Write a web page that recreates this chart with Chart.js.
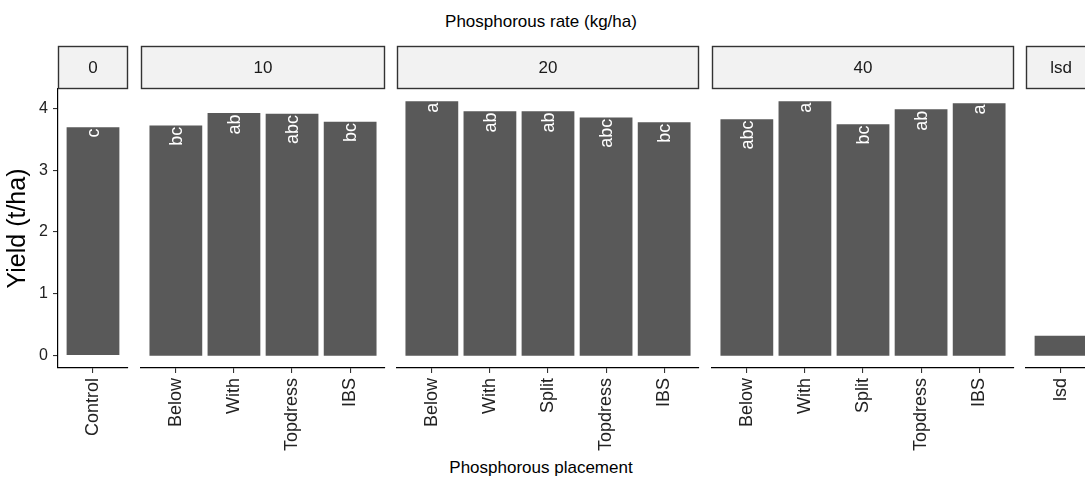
<!DOCTYPE html>
<html>
<head>
<meta charset="utf-8">
<script src="https://cdn.jsdelivr.net/npm/chart.js@4.4.1/dist/chart.umd.min.js"></script>
<style>
  html, body { margin: 0; padding: 0; background: #fff; overflow: hidden; }
  body { width: 1085px; height: 483px; position: relative; font-family: "Liberation Sans", Arial, sans-serif; }
  canvas { position: absolute; top: 0; }
  .title { position: absolute; left: 0; width: 1082px; text-align: center; font-size: 17px; color: #000; line-height: 20px; }
</style>
</head>
<body>
<div class="title" style="top:12px">Phosphorous rate (kg/ha)</div>
<div class="title" style="top:458px">Phosphorous placement</div>
<script>
// facets (phosphorous rate) and what sits in each one
const facets = ["0", "10", "20", "40", "lsd"]
const placements = [
  ["Control"],
  ["Below", "With", "Topdress", "IBS"],
  ["Below", "With", "Split", "Topdress", "IBS"],
  ["Below", "With", "Split", "Topdress", "IBS"],
  ["lsd"]
]
const yields = [
  [3.69],
  [3.72, 3.92, 3.91, 3.78],
  [4.11, 3.95, 3.95, 3.85, 3.77],
  [3.82, 4.11, 3.74, 3.98, 4.08],
  [0.31]
]
const letters = [
  ["c"],
  ["bc", "ab", "abc", "bc"],
  ["a", "ab", "ab", "abc", "bc"],
  ["abc", "a", "bc", "ab", "a"],
  [""]
]
const yTicks = [0, 1, 2, 3, 4]

// layout
const W = 1085, H = 483
const PANEL_TOP = 89, PANEL_BOTTOM = 368, STRIP_TOP = 46
const FIRST_LEFT = 58, UNIT = 57.9, GAP = 13.3, PAD = 3
const FONT = "'Liberation Sans', Arial, sans-serif"

// ggplot style expansion of the y range
const allVals = yields.flat()
const yMaxData = Math.max(...allVals)
const yLo = -0.05 * yMaxData
const yHi = yMaxData * 1.05

const stripPlugin = {
  id: 'strip',
  afterDraw(chart) {
    const ctx = chart.ctx
    const a = chart.chartArea
    ctx.save()
    ctx.fillStyle = '#f2f2f2'
    ctx.strokeStyle = '#333'
    ctx.lineWidth = 1.4
    ctx.fillRect(a.left, STRIP_TOP, a.right - a.left, PANEL_TOP - STRIP_TOP)
    ctx.strokeRect(a.left + 0.5, STRIP_TOP + 0.5, a.right - a.left - 1, PANEL_TOP - STRIP_TOP - 1)
    ctx.fillStyle = '#1a1a1a'
    ctx.font = '17px ' + FONT
    ctx.textAlign = 'center'
    ctx.textBaseline = 'middle'
    ctx.fillText(chart.options.plugins.strip.label, (a.left + a.right) / 2, (STRIP_TOP + PANEL_TOP) / 2 + 1)
    ctx.restore()
  }
}

const letterPlugin = {
  id: 'letters',
  afterDatasetsDraw(chart) {
    const ctx = chart.ctx
    const labs = chart.options.plugins.letters.labels
    const meta = chart.getDatasetMeta(0)
    ctx.save()
    ctx.fillStyle = '#fff'
    ctx.font = '18px ' + FONT
    ctx.textAlign = 'right'
    ctx.textBaseline = 'middle'
    meta.data.forEach(function(bar, j) {
      ctx.save()
      ctx.translate(bar.x, bar.y)
      ctx.rotate(-Math.PI / 2)
      ctx.fillText(labs[j], -1, 1)
      ctx.restore()
    })
    ctx.restore()
  }
}

let left = FIRST_LEFT
facets.forEach(function(facet, i) {
  const cats = placements[i]
  const n = cats.length
  const panelW = (n + 0.2) * UNIT
  const first = i === 0
  const canvasLeft = first ? 0 : left - PAD
  const canvasW = Math.ceil(left + panelW + PAD - canvasLeft)

  const cv = document.createElement('canvas')
  cv.width = canvasW
  cv.height = H
  cv.style.left = canvasLeft + 'px'
  cv.style.width = canvasW + 'px'
  cv.style.height = H + 'px'
  document.body.appendChild(cv)

  new Chart(cv, {
    type: 'bar',
    data: {
      datasets: [{
        data: yields[i].map((v, j) => ({ x: j + 1, y: v })),
        backgroundColor: '#595959',
        borderWidth: 0,
        barThickness: 0.9 * UNIT
      }]
    },
    options: {
      responsive: false,
      animation: false,
      devicePixelRatio: 1,
      layout: { padding: { top: PANEL_TOP, left: first ? 0 : PAD, right: PAD, bottom: 0 } },
      plugins: {
        legend: { display: false },
        tooltip: { enabled: false },
        strip: { label: facet },
        letters: { labels: letters[i] }
      },
      scales: {
        x: {
          type: 'linear',
          offset: false,
          min: 0.4,
          max: n + 0.6,
          afterBuildTicks: s => { s.ticks = cats.map((c, j) => ({ value: j + 1 })) },
          afterFit: s => { s.height = H - PANEL_BOTTOM },
          ticks: {
            autoSkip: false,
            minRotation: 90,
            maxRotation: 90,
            padding: 5,
            color: '#222',
            font: { size: 18, family: FONT },
            callback: v => cats[v - 1]
          },
          grid: { offset: false, drawOnChartArea: false, drawTicks: true, tickLength: 5, color: '#333', lineWidth: 1.1 },
          border: { display: true, color: '#000', width: 1.2 }
        },
        y: {
          display: first,
          min: yLo,
          max: yHi,
          afterBuildTicks: s => { s.ticks = yTicks.map(v => ({ value: v })) },
          afterFit: s => { if (first) s.width = FIRST_LEFT },
          ticks: {
            padding: 5,
            color: '#222',
            font: { size: 16, family: FONT },
            callback: v => String(v)
          },
          grid: { drawOnChartArea: false, drawTicks: true, tickLength: 5, color: '#333', lineWidth: 1.1 },
          border: { display: true, color: '#000', width: 1.2 },
          title: {
            display: true,
            text: 'Yield (t/ha)',
            color: '#000',
            font: { size: 25, family: FONT },
            padding: { top: 3, bottom: 0 }
          }
        }
      }
    },
    plugins: [stripPlugin, letterPlugin]
  })

  left += panelW + GAP
})
</script>
</body>
</html>
